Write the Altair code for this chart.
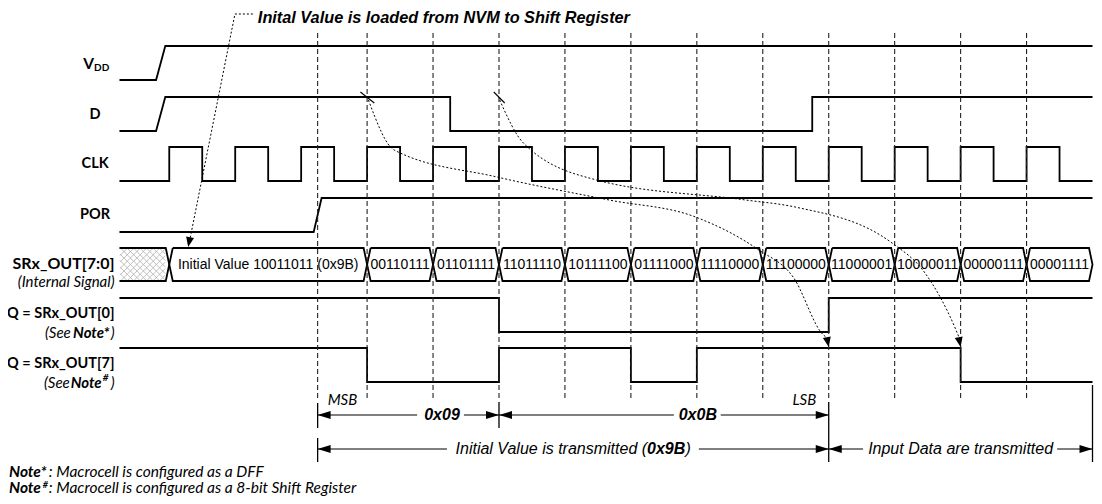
import altair as alt
import pandas as pd

# ------------------------------------------------------------------
# DATA (time in clock periods, t = 0 is the first CLK rising edge)
# ------------------------------------------------------------------
T_START = -0.755
T_END = 14.0

VDD_STEPS = [(-0.20, -0.06, 1)]                     # (t_begin, t_end, new level)
D_STEPS = [(-0.20, -0.06, 1), (4.26, 4.26, 0), (9.75, 9.75, 1)]
POR_STEPS = [(2.19, 2.31, 1)]
CLK_RISE = [0, 1, 2, 3, 4, 5, 6, 7, 8, 9, 10, 11, 12, 13]
CLK_FALL = [0.5, 1.5, 2.5, 3.5, 4.5, 5.5, 6.5, 7.5, 8.5, 9.5, 10.5, 11.5, 12.5, 13.5]
Q0_STEPS = [(5, 5, 0), (10, 10, 1)]
Q7_STEPS = [(3, 3, 0), (5, 5, 1), (7, 7, 0), (8, 8, 1), (12, 12, 0)]

BUS_EDGES = [0, 3, 4, 5, 6, 7, 8, 9, 10, 11, 12, 13, 14]
BUS_TEXT = ["Initial Value 10011011 (0x9B)", "00110111", "01101111", "11011110",
            "10111100", "01111000", "11110000", "11100000", "11000001",
            "10000011", "00000111", "00001111"]

GUIDES_T = [2.25, 3, 4, 5, 6, 7, 8, 9, 10, 11, 12, 13]

# annotation curves (t, y)
CURVE_A = [(3.02, 100), (3.41, 150), (4.97, 177), (6.67, 200), (7.98, 217),
           (8.94, 250), (9.46, 277), (9.92, 335), (9.98, 338)]
CURVE_B = [(5.01, 100), (5.37, 143), (6.48, 180), (8.74, 200), (9.49, 207),
           (10.96, 243), (11.46, 273), (11.93, 330), (11.98, 338)]
LEADER = [(1.268, 14), (0.996, 14), (0.302, 243)]

# ------------------------------------------------------------------
# LAYOUT
# ------------------------------------------------------------------
PXT = 66.25          # reference pixels per clock period
T0PX = 171.0         # reference pixel of t = 0
def T(px):
    return (px - T0PX) / PXT

TMIN = T(8.995)
TMAX = T(1100.0)
AMP = 34
ROW_LOW = {"VDD": 80, "D": 131, "CLK": 181, "POR": 232, "Q0": 332, "Q7": 382}
BUS_TOP, BUS_BOT = 248, 281
BUS_MID = (BUS_TOP + BUS_BOT) / 2
HX = 3.5 / PXT

xs = alt.Scale(domain=[TMIN, TMAX], nice=False, zero=False)
ys = alt.Scale(domain=[8, 496], reverse=True, nice=False, zero=False)


def X(f="t"):
    return alt.X(f"{f}:Q", scale=xs, axis=None)


def Y(f="y"):
    return alt.Y(f"{f}:Q", scale=ys, axis=None)


def step_points(steps, low, init=0):
    lvl = init
    pts = [(T_START, lvl)]
    for a, b, new in steps:
        pts.append((a, lvl))
        pts.append((b, new))
        lvl = new
    pts.append((T_END, lvl))
    return [(t, low - AMP * l) for t, l in pts]


clk_steps = []
for r, f in zip(CLK_RISE, CLK_FALL):
    clk_steps.append((r, r, 1))
    clk_steps.append((f, f, 0))

signals = {
    "VDD": step_points(VDD_STEPS, ROW_LOW["VDD"]),
    "D": step_points(D_STEPS, ROW_LOW["D"]),
    "CLK": step_points(clk_steps, ROW_LOW["CLK"]),
    "POR": step_points(POR_STEPS, ROW_LOW["POR"]),
    "Q0": step_points(Q0_STEPS, ROW_LOW["Q0"], init=1),
    "Q7": step_points(Q7_STEPS, ROW_LOW["Q7"], init=1),
}
rows = []
for name, pts in signals.items():
    for i, (t, y) in enumerate(pts):
        rows.append({"sig": name, "i": i, "t": t, "y": y})
# bus hexagons
for k in range(len(BUS_EDGES) - 1):
    a, b = BUS_EDGES[k], BUS_EDGES[k + 1]
    pts = [(a + HX, BUS_TOP), (b - HX, BUS_TOP), (b, BUS_MID), (b - HX, BUS_BOT),
           (a + HX, BUS_BOT), (a, BUS_MID), (a + HX, BUS_TOP)]
    for i, (t, y) in enumerate(pts):
        rows.append({"sig": f"bus{k}", "i": i, "t": t, "y": y})
# undefined (hatched) part outline
pts = [(T_START, BUS_TOP), (-HX, BUS_TOP), (0, BUS_MID), (-HX, BUS_BOT), (T_START, BUS_BOT)]
for i, (t, y) in enumerate(pts):
    rows.append({"sig": "busX", "i": i, "t": t, "y": y})
sig_df = pd.DataFrame(rows)

signal_layer = alt.Chart(sig_df).mark_line(color="black", strokeWidth=1.8, strokeJoin="miter").encode(
    x=X(), y=Y(), detail="sig:N", order="i:Q")

# crosshatch
xl, xr = 121.5, 167.0
yt, yb = BUS_TOP + 1, BUS_BOT - 1
H = yb - yt
hat = []
x0 = xl - H
while x0 < xr:
    s0 = max(0.0, (xl - x0) / H)
    s1 = min(1.0, (xr - x0) / H)
    if s1 > s0:
        hat.append({"t": T(x0 + s0 * H), "t2": T(x0 + s1 * H), "y": yt + s0 * H, "y2": yt + s1 * H})
        hat.append({"t": T(x0 + s0 * H), "t2": T(x0 + s1 * H), "y": yb - s0 * H, "y2": yb - s1 * H})
    x0 += 6.5
hatch_layer = alt.Chart(pd.DataFrame(hat)).mark_rule(color="#b0b0b0", strokeWidth=0.8).encode(
    x=X(), x2="t2:Q", y=Y(), y2="y2:Q")

# dashed guides
guide_df = pd.DataFrame({"t": GUIDES_T, "y": [33] * len(GUIDES_T), "y2": [400] * len(GUIDES_T)})
guide_layer = alt.Chart(guide_df).mark_rule(color="#222222", strokeWidth=1.1, strokeDash=[5, 3]).encode(
    x=X(), y=Y(), y2="y2:Q")

# solid markers
vm = pd.DataFrame([
    {"t": 2.25, "y": 403, "y2": 428}, {"t": 2.25, "y": 438, "y2": 462},
    {"t": 5, "y": 402, "y2": 428}, {"t": 10, "y": 402, "y2": 462},
    {"t": 14, "y": 385, "y2": 462},
])
tk = pd.DataFrame([
    {"t": T(363), "t2": T(377), "y": 92, "y2": 103},
    {"t": T(497), "t2": T(508), "y": 92, "y2": 103},
])
marker_layer = alt.Chart(vm).mark_rule(color="black", strokeWidth=1.3).encode(x=X(), y=Y(), y2="y2:Q")
tick_layer = alt.Chart(tk).mark_rule(color="black", strokeWidth=1.1).encode(x=X(), x2="t2:Q", y=Y(), y2="y2:Q")

# arrow lines (with gaps for labels)
ROW1, ROW2 = 415, 449
seg_df = pd.DataFrame([
    {"t": 2.25, "t2": T(420), "y": ROW1}, {"t": T(467), "t2": 5, "y": ROW1},
    {"t": 5, "t2": T(678), "y": ROW1}, {"t": T(725), "t2": 10, "y": ROW1},
    {"t": 2.25, "t2": T(450), "y": ROW2}, {"t": T(703), "t2": 10, "y": ROW2},
    {"t": 10, "t2": T(868), "y": ROW2}, {"t": T(1063), "t2": 14, "y": ROW2},
])
seg_layer = alt.Chart(seg_df).mark_rule(color="black", strokeWidth=1.2).encode(x=X(), x2="t2:Q", y=Y())

LEFT_HEAD = "M0,0L2,-0.6L2,0.6Z"
RIGHT_HEAD = "M0,0L-2,-0.6L-2,0.6Z"
lh = pd.DataFrame({"t": [2.25, 5, 2.25, 10], "y": [ROW1, ROW1, ROW2, ROW2]})
rh = pd.DataFrame({"t": [5, 10, 10, 14], "y": [ROW1, ROW1, ROW2, ROW2]})
lh_layer = alt.Chart(lh).mark_point(shape=LEFT_HEAD, filled=True, color="black", size=169, opacity=1).encode(x=X(), y=Y())
rh_layer = alt.Chart(rh).mark_point(shape=RIGHT_HEAD, filled=True, color="black", size=169, opacity=1).encode(x=X(), y=Y())

# dotted annotation curves
crow = []
for name, pts in [("A", CURVE_A), ("B", CURVE_B)]:
    for i, (t, y) in enumerate(pts):
        crow.append({"c": name, "i": i, "t": t, "y": y})
curve_layer = alt.Chart(pd.DataFrame(crow)).mark_line(
    color="black", strokeWidth=1, strokeDash=[2, 2], interpolate="monotone").encode(
    x=X(), y=Y(), detail="c:N", order="i:Q")
lrow = [{"i": i, "t": t, "y": y} for i, (t, y) in enumerate(LEADER)]
leader_layer = alt.Chart(pd.DataFrame(lrow)).mark_line(
    color="black", strokeWidth=1, strokeDash=[2, 2]).encode(x=X(), y=Y(), order="i:Q")

DOWN_HEAD = "M0,0L-0.8,-2L0.8,-2Z"
dh = pd.DataFrame({"t": [T(190), 10.0, 12.0], "y": [247, 347, 347], "ang": [11, 349, 349]})
dh_layer = alt.Chart(dh).mark_point(shape=DOWN_HEAD, filled=True, color="black", size=100, opacity=1).encode(
    x=X(), y=Y(), angle=alt.Angle("ang:Q", scale=None))


# ------------------------------------------------------------------
# TEXT
# ------------------------------------------------------------------
def txt(items, **kw):
    df = pd.DataFrame(items, columns=["t", "y", "txt"])
    base = dict(color="black", baseline="middle")
    base.update(kw)
    return alt.Chart(df).mark_text(**base).encode(x=X(), y=Y(), text="txt:N")


ARIAL = "Liberation Sans"
CAL = "Lato"

title_layer = txt([(T(260), 17.5, "Inital Value is loaded from NVM to Shift Register")],
                  font=ARIAL, fontSize=16.3, fontWeight="bold", fontStyle="italic", align="left")

bus_items = []
for k, label in enumerate(BUS_TEXT):
    bus_items.append(((BUS_EDGES[k] + BUS_EDGES[k + 1]) / 2, BUS_MID + 0.5, label))
bus_text_layer = txt(bus_items, font=ARIAL, fontSize=14, align="center")

arrow_bi = txt([(T(445), ROW1, "0x09"), (T(702), ROW1, "0x0B")],
               font=ARIAL, fontSize=16, fontWeight="bold", fontStyle="italic", align="center")
arrow_it_c = txt([(T(966), ROW2, "Input Data are transmitted")],
                 font=ARIAL, fontSize=16, fontStyle="italic", align="center")
arrow_it_r = txt([(T(651), ROW2, "Initial Value is transmitted (")],
                 font=ARIAL, fontSize=16, fontStyle="italic", align="right")
arrow_bi_l = txt([(T(651), ROW2, "0x9B")],
                 font=ARIAL, fontSize=16, fontWeight="bold", fontStyle="italic", align="left")
arrow_it_l = txt([(T(689.5), ROW2, ")")],
                 font=ARIAL, fontSize=16, fontStyle="italic", align="left")

lab_c = txt([(T(96.5), 114.5, "D"), (T(96.5), 163.5, "CLK"), (T(96.5), 214.5, "POR")],
            font=CAL, fontSize=14.5, fontWeight="bold", align="center")
lab_v = txt([(T(95.5), 64, "V")], font=CAL, fontSize=15.5, fontWeight="bold", align="right")
lab_dd = txt([(T(95.5), 68, "DD")], font=CAL, fontSize=10, fontWeight="bold", align="left")
lab_r = txt([(T(116), 263.5, "SRx_OUT[7:0]")],
            font=CAL, fontSize=16, fontWeight="bold", align="right")
lab_q = txt([(T(116), 314, "Q = SRx_OUT[0]"), (T(116), 364, "Q = SRx_OUT[7]")],
            font=CAL, fontSize=14.5, fontWeight="bold", align="right")
lab_ri = txt([(T(116), 282, "(Internal Signal)"), (T(116), 333, ")"), (T(72), 333, "(See "),
              (T(116), 383, ")"), (T(71), 383, "(See ")],
             font=CAL, fontSize=15, fontStyle="italic", align="right")
lab_rbi = txt([(T(111), 333, "Note*"), (T(103), 383, "Note")],
              font=CAL, fontSize=15, fontWeight="bold", fontStyle="italic", align="right")
lab_sup = txt([(T(110), 378, "#")], font=CAL, fontSize=10, fontWeight="bold", fontStyle="italic", align="right")

msb_lsb = txt([(T(345), 399.5, "MSB"), (T(809), 399.5, "LSB")],
              font=CAL, fontSize=15, fontStyle="italic", align="center")

note_bi = txt([(T(10), 471.5, "Note*"), (T(10), 488, "Note")],
              font=CAL, fontSize=15.5, fontWeight="bold", fontStyle="italic", align="left")
note_sup = txt([(T(44), 484.5, "#")], font=CAL, fontSize=9, fontWeight="bold", fontStyle="italic", align="left")
note_it = txt([(T(50), 471.5, ": Macrocell is configured as a DFF"),
               (T(50), 488, ": Macrocell is configured as a 8-bit Shift Register")],
              font=CAL, fontSize=15.5, fontStyle="italic", align="left")

chart = alt.layer(
    hatch_layer, signal_layer, guide_layer, marker_layer, tick_layer, seg_layer,
    lh_layer, rh_layer, curve_layer, leader_layer, dh_layer,
    title_layer, bus_text_layer, arrow_bi, arrow_it_c, arrow_it_r, arrow_bi_l, arrow_it_l,
    lab_c, lab_v, lab_dd, lab_r, lab_q, lab_ri, lab_rbi, lab_sup, msb_lsb, note_bi, note_sup, note_it,
).properties(
    width=1086, height=488, autosize=alt.AutoSizeParams(type="none"), padding=0,
    background="white",
).configure_view(stroke=None)

chart.save("out.html", embed_options={"renderer": "svg", "actions": False})
